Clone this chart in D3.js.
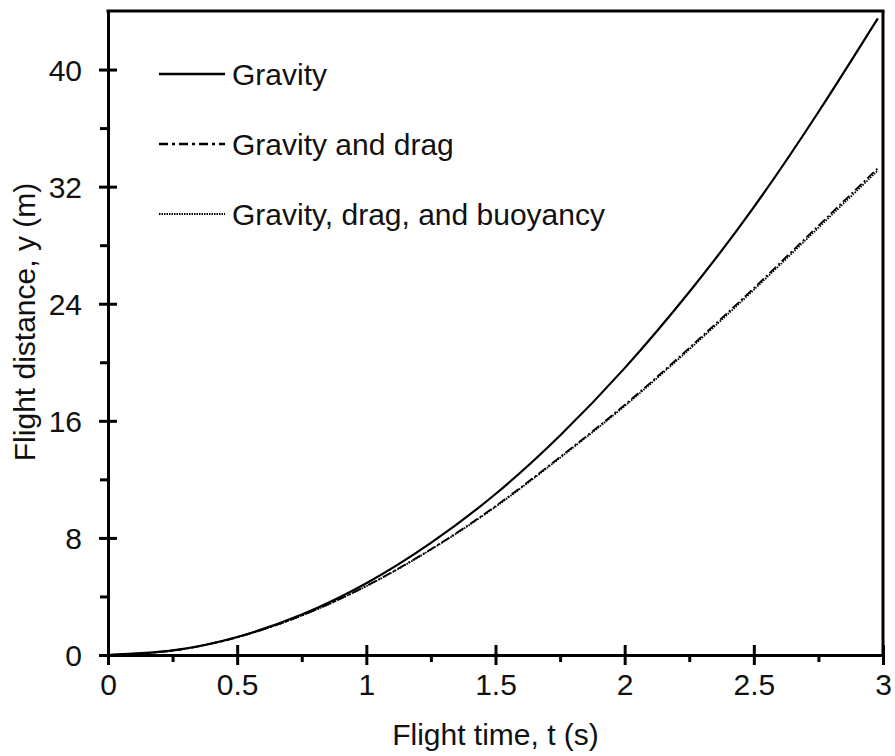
<!DOCTYPE html>
<html>
<head>
<meta charset="utf-8">
<script src="https://cdn.jsdelivr.net/npm/d3@7"></script>
<style>
  body { margin: 0; background: #fff; }
  svg text { font-family: "Liberation Sans", Arial, sans-serif; fill: #111; }
</style>
</head>
<body>
<div id="graphique"></div>
<script>
// valeurs
const temps = [0, 0.25, 0.5, 0.75, 1, 1.25, 1.5, 1.75, 2, 2.25, 2.5, 2.75, 2.98];
const gravite = [0, 0.31, 1.23, 2.76, 4.9, 7.66, 11.0, 15.0, 19.6, 24.8, 30.6, 37.1, 43.5];
const graviteTrainee = [0, 0.30, 1.21, 2.70, 4.72, 7.23, 10.17, 13.53, 17.09, 20.98, 25.07, 29.33, 33.25];
const graviteTraineePoussee = [0, 0.30, 1.21, 2.69, 4.70, 7.20, 10.12, 13.47, 17.01, 20.88, 24.95, 29.19, 33.10];

const xTicks = [0, 0.5, 1, 1.5, 2, 2.5, 3];
const xMinor = [0.25, 0.75, 1.25, 1.75, 2.25, 2.75];
const yTicks = [0, 8, 16, 24, 32, 40];
const yMinor = [4, 12, 20, 28, 36];

const series = [
  { nom: "Gravity", valeurs: gravite, dash: null },
  { nom: "Gravity and drag", valeurs: graviteTrainee, dash: "9,3,2,3" },
  { nom: "Gravity, drag, and buoyancy", valeurs: graviteTraineePoussee, dash: "1.5,1.2" }
];

const largeur = 895, hauteur = 756;
const marge = { haut: 11, droite: 12, bas: 101, gauche: 108 };
const taille = "30px";

const svg = d3.select("#graphique").append("svg")
  .attr("width", largeur)
  .attr("height", hauteur);

const x = d3.scaleLinear().domain([0, 3]).range([marge.gauche, largeur - marge.droite]);
const y = d3.scaleLinear().domain([0, 44]).range([hauteur - marge.bas, marge.haut]);

// courbes
const ligne = d3.line()
  .x((d, i) => x(temps[i]))
  .y(d => y(d))
  .curve(d3.curveNatural);

series.forEach(s => {
  svg.append("path")
    .attr("d", ligne(s.valeurs))
    .attr("fill", "none")
    .attr("stroke", "#000")
    .attr("stroke-width", s.dash ? 1.8 : 2.2)
    .attr("stroke-dasharray", s.dash);
});

// cadre
svg.append("line")
  .attr("x1", x(0) - 1.5).attr("x2", x(3) + 1.5)
  .attr("y1", y(44)).attr("y2", y(44))
  .attr("stroke", "#000").attr("stroke-width", 3);
svg.append("line")
  .attr("x1", x(3)).attr("x2", x(3))
  .attr("y1", y(44)).attr("y2", y(0))
  .attr("stroke", "#000").attr("stroke-width", 3);

// axe x
const axeX = svg.append("g")
  .attr("transform", "translate(0," + y(0) + ")")
  .call(d3.axisBottom(x).tickValues(xTicks).tickSize(10).tickSizeOuter(0).tickFormat(d3.format("")));
axeX.selectAll(".tick line").attr("y1", -10).attr("stroke-width", 3);
axeX.selectAll(".tick text").attr("y", 40).attr("dy", null).style("font-size", taille);
axeX.select(".domain").attr("stroke-width", 3);

svg.append("g")
  .attr("transform", "translate(0," + y(0) + ")")
  .call(d3.axisBottom(x).tickValues(xMinor).tickSize(7).tickSizeOuter(0).tickFormat(""))
  .call(g => g.select(".domain").remove())
  .selectAll(".tick line").attr("stroke-width", 3);

// axe y
const axeY = svg.append("g")
  .attr("transform", "translate(" + x(0) + ",0)")
  .call(d3.axisLeft(y).tickValues(yTicks).tickSize(9).tickSizeOuter(0));
axeY.selectAll(".tick line").attr("x1", 9).attr("stroke-width", 3);
axeY.selectAll(".tick text").attr("x", -26).attr("dy", "0.35em").style("font-size", taille);
axeY.select(".domain").attr("stroke-width", 3);

svg.append("g")
  .attr("transform", "translate(" + x(0) + ",0)")
  .call(d3.axisLeft(y).tickValues(yMinor).tickSize(8).tickSizeOuter(0).tickFormat(""))
  .call(g => g.select(".domain").remove())
  .selectAll(".tick line").attr("stroke-width", 3);

// titres des axes
svg.append("text")
  .attr("x", (x(0) + x(3)) / 2)
  .attr("y", 745)
  .attr("text-anchor", "middle")
  .style("font-size", taille)
  .text("Flight time, t (s)");

svg.append("text")
  .attr("transform", "translate(35,322) rotate(-90)")
  .attr("text-anchor", "middle")
  .style("font-size", taille)
  .text("Flight distance, y (m)");

// légende
const legende = svg.append("g");
series.forEach((s, i) => {
  const yL = 74 + i * 70;
  legende.append("line")
    .attr("x1", 159).attr("x2", 225)
    .attr("y1", yL).attr("y2", yL)
    .attr("stroke", "#000")
    .attr("stroke-width", i == 2 ? 2 : 2.5)
    .attr("stroke-dasharray", s.dash ? (i == 1 ? "9,4,3,4" : "1.5,1") : null);
  legende.append("text")
    .attr("x", 232)
    .attr("y", yL + 11)
    .style("font-size", taille)
    .text(s.nom);
});
</script>
</body>
</html>
